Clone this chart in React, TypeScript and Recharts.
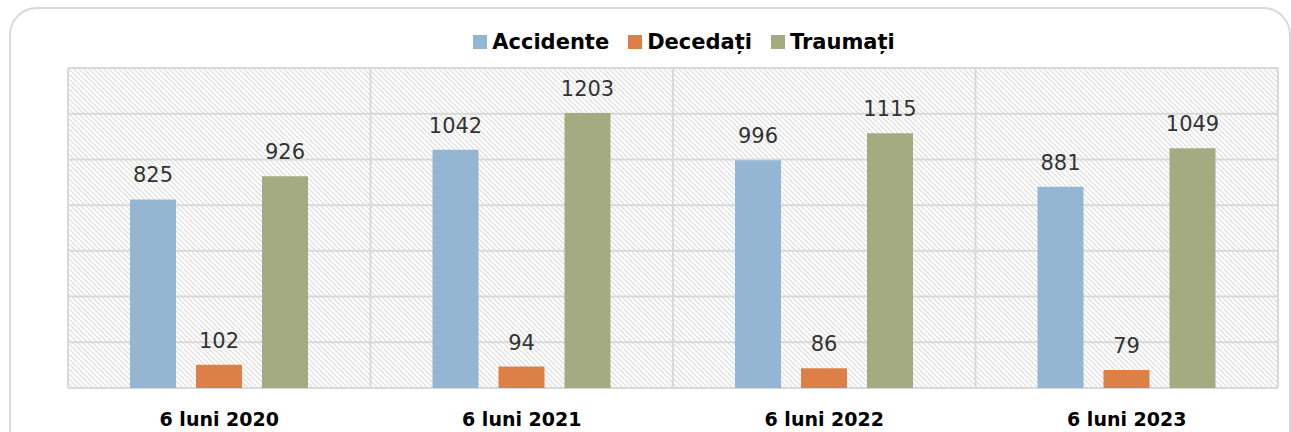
import { Bar, BarChart, CartesianGrid, LabelList, Legend, XAxis, YAxis } from 'recharts'

const categories = ['6 luni 2020', '6 luni 2021', '6 luni 2022', '6 luni 2023']
const accidente = [825, 1042, 996, 881]
const decedati = [102, 94, 86, 79]
const traumati = [926, 1203, 1115, 1049]
const yTicks = [0, 200, 400, 600, 800, 1000, 1200, 1400]
const bandTicks = [0, 1, 2, 3, 4]

const series = [
  { key: 'accidente', name: 'Accidente', color: '#94b6d2' },
  { key: 'decedati', name: 'Decedați', color: '#dd8047' },
  { key: 'traumati', name: 'Traumați', color: '#a5ab81' },
]

const chartData = categories.map((name, i) => ({
  name,
  band: i + 0.5,
  accidente: accidente[i],
  decedati: decedati[i],
  traumati: traumati[i],
}))

const FONT = '"DejaVu Sans", sans-serif'

const LegendBox = () => (
  <div style={{ height: 40, display: 'flex', justifyContent: 'center', fontFamily: FONT, paddingLeft: 41 }}>
    {series.map((s) => (
      <div key={s.key} style={{ display: 'flex', alignItems: 'center', height: 28, marginRight: 19 }}>
        <span style={{ width: 14, height: 14, background: s.color, marginRight: 5 }} />
        <span style={{ fontSize: 21, fontWeight: 'bold', color: '#000' }}>{s.name}</span>
      </div>
    ))}
  </div>
)

const CategoryTick = (props: any) => {
  const { x, y, payload } = props
  return (
    <text x={x} y={y + 30} textAnchor="middle" fontFamily={FONT} fontSize={19} fontWeight="bold" fill="#000">
      {payload.value}
    </text>
  )
}

export default function App() {
  return (
    <div style={{ position: 'absolute', left: 0, top: 0, width: 1291, height: 432, overflow: 'hidden', background: '#fff' }}>
      <div
        style={{
          position: 'absolute',
          left: 9,
          top: 7,
          width: 1282,
          height: 470,
          border: '2px solid #d9d9d9',
          borderRadius: 28,
          boxSizing: 'border-box',
        }}
      />
      <div style={{ position: 'absolute', left: 0, top: 0 }}>
        <BarChart
          width={1291}
          height={432}
          data={chartData}
          margin={{ top: 28, right: 13, left: 68, bottom: 0 }}
          barSize={46}
          barGap={20}
          barCategoryGap={62}
        >
          <defs>
            <pattern id="hatch" patternUnits="userSpaceOnUse" width="5" height="5">
              <path d="M0,0 L5,5 M-1,4 L1,6 M4,-1 L6,1" stroke="#dcdcdc" strokeWidth={1.2} />
            </pattern>
          </defs>
          <CartesianGrid
            xAxisId="band"
            fill="url(#hatch)"
            stroke="#d9d9d9"
            strokeWidth={2}
          />
          <XAxis dataKey="name" axisLine={false} tickLine={false} height={44} tick={<CategoryTick />} interval={0} />
          <XAxis xAxisId="band" dataKey="band" type="number" domain={[0, 4]} ticks={bandTicks} hide />
          <YAxis domain={[0, 1400]} ticks={yTicks} hide />
          <Legend verticalAlign="top" align="center" content={<LegendBox />} />
          {series.map((s) => (
            <Bar key={s.key} dataKey={s.key} name={s.name} fill={s.color} isAnimationActive={false}>
              <LabelList dataKey={s.key} position="top" offset={17} fill="#333333" fontSize={21} fontFamily={FONT} />
            </Bar>
          ))}
        </BarChart>
      </div>
    </div>
  )
}
